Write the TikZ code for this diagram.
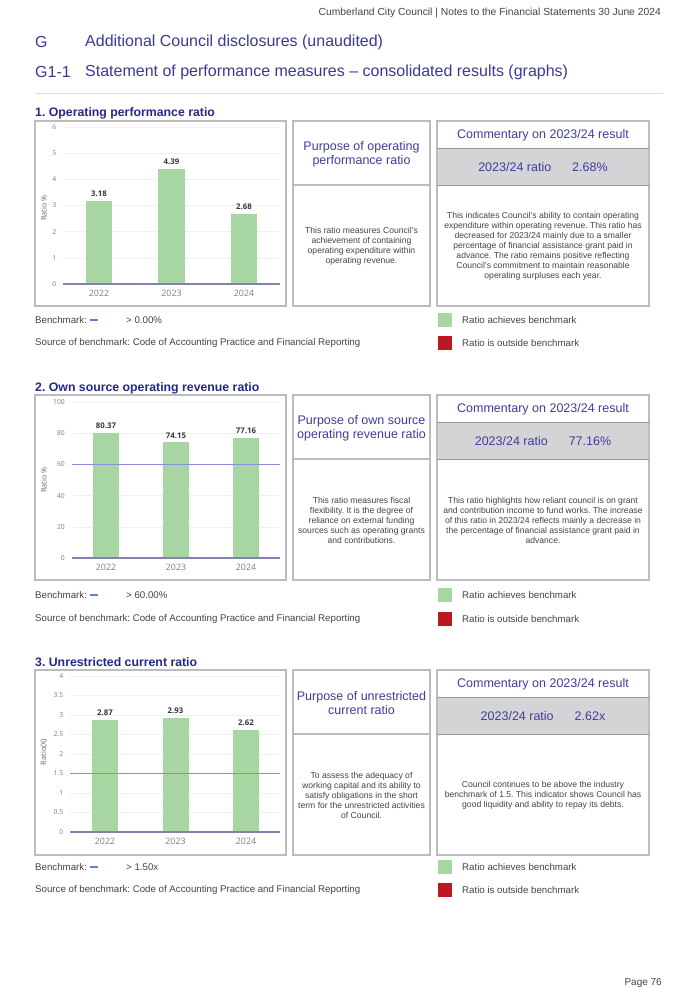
\documentclass[tikz,border=0pt]{standalone}
\usepackage{fontspec}
\setmainfont{Liberation Sans}
\newfontfamily\chartfont{Open Sans}
\frenchspacing
\definecolor{hblue}{RGB}{58,58,150}
\definecolor{tblue}{RGB}{38,40,135}
\definecolor{cblue}{RGB}{62,62,158}
\definecolor{boxline}{RGB}{188,188,188}
\definecolor{bandfill}{RGB}{212,212,214}
\definecolor{bandline}{RGB}{150,150,155}
\definecolor{barfill}{RGB}{168,214,162}
\definecolor{benchc}{RGB}{140,140,220}
\definecolor{axisc}{RGB}{130,130,175}
\definecolor{gridc}{RGB}{240,240,240}
\definecolor{bodyc}{RGB}{68,68,68}
\definecolor{labc}{RGB}{125,125,125}
\definecolor{valc}{RGB}{55,55,55}
\definecolor{redc}{RGB}{188,24,34}
\definecolor{dashc}{RGB}{95,130,205}
\definecolor{rulec}{RGB}{220,220,220}
\newcommand\infoboxes[6]{%
  \node[box, minimum width=251pt, minimum height=185pt] (#2chart) at (35,#1) {};
  \node[box, minimum width=137pt, minimum height=185pt] (#2purp) at (293,#1) {};
  \node[box, minimum width=212pt, minimum height=185pt] (#2comm) at (437,#1) {};
  \draw[draw=boxline, line width=1.1pt] (293,{#1+64}) -- (430,{#1+64});
  \fill[bandfill] (437.6,{#1+27}) rectangle (648.4,{#1+64});
  \draw[draw=bandline, line width=1pt] (437,{#1+27}) -- (649,{#1+27});
  \draw[draw=bandline, line width=0.8pt] (437,{#1+64}) -- (649,{#1+64});
  \node[ptitle] (#2ptitle) at (361.5,{#1+33.5}) {#3};
  \node[ptitle] (#2chead) at (543,{#1+14}) {Commentary on 2023/24 result};
  \node[ptitle] (#2ratio) at (543,{#1+46}) {#5};
  \node[bodytext] (#2pbody) at (361.5,{#1+125}) {#4};
  \node[bodytext] (#2cbody) at (543,{#1+125}) {#6};
}
\newcommand\legendrows[4]{%
  % #1 benchmark row y, #2 source row y, #3 prefix, #4 benchmark value
  \node[legtext, anchor=west] (#3bm) at (35,#1) {Benchmark:};
  \coordinate (#3da) at (89.5,#1);
  \coordinate (#3db) at (98,#1);
  \draw[dashc, line width=1.4pt] (#3da) -- (#3db);
  \node[legtext, anchor=west] (#3bv) at (126,#1) {#4};
  \node[legtext, anchor=west] (#3src) at (35,#2) {Source of benchmark: Code of Accounting Practice and Financial Reporting};
  \node[sq, fill=barfill] (#3gsq) at (444.5,#1) {};
  \node[sq, fill=redc] (#3rsq) at (444.5,#2) {};
  \node[legtext, anchor=west] (#3gt) at (462,#1) {Ratio achieves benchmark};
  \node[legtext, anchor=west] (#3rt) at (462,#2) {Ratio is outside benchmark};
}
\begin{document}
\begin{tikzpicture}[x=1pt,y=-1pt,
  box/.style={draw=boxline, line width=1.1pt, inner sep=0pt, outer sep=0pt, anchor=north west},
  ptitle/.style={font=\fontsize{12.5}{14}\selectfont, text=cblue, align=center, inner sep=0pt},
  bodytext/.style={font=\fontsize{8.6}{10}\selectfont, text=bodyc, align=center, inner sep=0pt},
  legtext/.style={font=\fontsize{9.7}{11}\selectfont, text=bodyc, inner sep=0pt},
  sq/.style={minimum width=14pt, minimum height=13.5pt, inner sep=0pt, draw=none},
  sectitle/.style={font=\bfseries\fontsize{12.3}{14}\selectfont, text=tblue, anchor=west, inner sep=0pt},
  ylab/.style={font=\chartfont\fontsize{6.8}{8}\selectfont, text=labc, anchor=east, inner sep=0pt},
  yearlab/.style={font=\chartfont\fontsize{8.8}{10}\selectfont, text=labc, inner sep=0pt},
  vallab/.style={font=\chartfont\bfseries\fontsize{7.8}{9}\selectfont, text=valc, inner sep=0pt},
  ytitle/.style={font=\chartfont\fontsize{7.4}{8}\selectfont, text=labc!80!black, rotate=90, inner sep=0pt},
  gridl/.style={draw=gridc, line width=0.6pt},
  axisl/.style={draw=axisc, line width=1.2pt},
  benchl/.style={draw=benchc, line width=1pt},
  barr/.style={fill=barfill, draw=none}
]
\useasboundingbox (0,0) rectangle (682,989);
\fill[white] (0,0) rectangle (682,989);

% ---------- page header ----------
\node[font=\fontsize{10.3}{12}\selectfont, text=bodyc, anchor=east, inner sep=0pt] (hdr) at (661,13) {Cumberland City Council | Notes to the Financial Statements 30 June 2024};
\node[font=\fontsize{16}{19}\selectfont, text=hblue, anchor=west, inner sep=0pt] (hG) at (35,42) {G};
\node[font=\fontsize{16}{19}\selectfont, text=hblue, anchor=west, inner sep=0pt] (hGt) at (85,42) {Additional Council disclosures (unaudited)};
\node[font=\fontsize{16}{19}\selectfont, text=hblue, anchor=west, inner sep=0pt] (hG1) at (35,72) {G1-1};
\node[font=\fontsize{16}{19}\selectfont, text=hblue, anchor=west, inner sep=0pt] (hG1t) at (85,72) {Statement of performance measures – consolidated results (graphs)};
\coordinate (ruleA) at (35,93);
\coordinate (ruleB) at (663,93);
\draw[rulec, line width=0.8pt] (ruleA) -- (ruleB);

% ================= Section 1 =================
\node[sectitle] (s1title) at (35,113) {1. Operating performance ratio};
\infoboxes{121}{s1}{Purpose of operating\\performance ratio}%
 {This ratio measures Council's\\achievement of containing\\operating expenditure within\\operating revenue.}%
 {2023/24 ratio\hspace{21pt}2.68\%}%
 {This indicates Council's ability to contain operating\\expenditure within operating revenue. This ratio has\\decreased for 2023/24 mainly due to a smaller\\percentage of financial assistance grant paid in\\advance. The ratio remains positive reflecting\\Council's commitment to maintain reasonable\\operating surpluses each year.}
% chart 1: base 284, top 127
\foreach \v [count=\i] in {0,1,2,3,4,5,6} {
  \draw[gridl] (63,{284-\v*157/6}) -- (280,{284-\v*157/6});
  \node[ylab] (c1y\i) at (56.5,{284-\v*157/6}) {\v};
}
\foreach \cx/\val/\yr [count=\i] in {99/3.18/2022,171.5/4.39/2023,244/2.68/2024} {
  \fill[barr] ({\cx-13.3},284) rectangle ({\cx+13.3},{284-\val*157/6});
  \node[vallab] (c1v\i) at (\cx,{284-\val*157/6-7}) {\val};
  \node[yearlab] (c1x\i) at (\cx,293.5) {\yr};
}
\coordinate (c1a) at (63,284);
\coordinate (c1b) at (280,284);
\draw[axisl] (c1a) -- (c1b);
\node[ytitle] (c1t) at (44,208) {Ratio \%};
\legendrows{320}{343}{l1}{> 0.00\%}

% ================= Section 2 =================
\node[sectitle] (s2title) at (35,388) {2. Own source operating revenue ratio};
\infoboxes{395}{s2}{Purpose of own source\\operating revenue ratio}%
 {This ratio measures fiscal\\flexibility. It is the degree of\\reliance on external funding\\sources such as operating grants\\and contributions.}%
 {2023/24 ratio\hspace{21pt}77.16\%}%
 {This ratio highlights how reliant council is on grant\\and contribution income to fund works. The increase\\of this ratio in 2023/24 reflects mainly a decrease in\\the percentage of financial assistance grant paid in\\advance.}
% chart 2: base 558, top 402
\foreach \v [count=\i] in {0,20,40,60,80,100} {
  \draw[gridl] (72,{558-\v*1.56}) -- (280,{558-\v*1.56});
  \node[ylab] (c2y\i) at (65,{558-\v*1.56}) {\v};
}
\foreach \cx/\val/\yr [count=\i] in {106/80.37/2022,176/74.15/2023,246/77.16/2024} {
  \fill[barr] ({\cx-13},558) rectangle ({\cx+13},{558-\val*1.56});
  \node[vallab] (c2v\i) at (\cx,{558-\val*1.56-7}) {\val};
  \node[yearlab] (c2x\i) at (\cx,567.5) {\yr};
}
\coordinate (c2ba) at (72,464.4);
\coordinate (c2bb) at (280,464.4);
\draw[benchl] (c2ba) -- (c2bb);
\coordinate (c2a) at (72,558);
\coordinate (c2b) at (280,558);
\draw[axisl] (c2a) -- (c2b);
\node[ytitle] (c2t) at (44,480) {Ratio \%};
\legendrows{595}{619}{l2}{> 60.00\%}

% ================= Section 3 =================
\node[sectitle] (s3title) at (35,662) {3. Unrestricted current ratio};
\infoboxes{670}{s3}{Purpose of unrestricted\\current ratio}%
 {To assess the adequacy of\\working capital and its ability to\\satisfy obligations in the short\\term for the unrestricted activities\\of Council.}%
 {2023/24 ratio\hspace{21pt}2.62x}%
 {Council continues to be above the industry\\benchmark of 1.5. This indicator shows Council has\\good liquidity and ability to repay its debts.}
% chart 3: base 832, top 676
\foreach \v [count=\i] in {0,0.5,1,1.5,2,2.5,3,3.5,4} {
  \draw[gridl] (70,{832-\v*39}) -- (280,{832-\v*39});
  \node[ylab] (c3y\i) at (63.5,{832-\v*39}) {\v};
}
\foreach \cx/\val/\yr [count=\i] in {105/2.87/2022,175.5/2.93/2023,246/2.62/2024} {
  \fill[barr] ({\cx-13},832) rectangle ({\cx+13},{832-\val*39});
  \node[vallab] (c3v\i) at (\cx,{832-\val*39-7}) {\val};
  \node[yearlab] (c3x\i) at (\cx,841) {\yr};
}
\coordinate (c3ba) at (70,773.5);
\coordinate (c3bb) at (280,773.5);
\draw[benchl] (c3ba) -- (c3bb);
\coordinate (c3a) at (70,832);
\coordinate (c3b) at (280,832);
\draw[axisl] (c3a) -- (c3b);
\node[ytitle] (c3t) at (44,752) {Ratio(X)};
\legendrows{867}{890}{l3}{> 1.50x}

% ---------- page footer ----------
\node[font=\fontsize{10}{12}\selectfont, text=bodyc, anchor=east, inner sep=0pt] (pg) at (662,983) {Page 76};
\end{tikzpicture}
\end{document}
